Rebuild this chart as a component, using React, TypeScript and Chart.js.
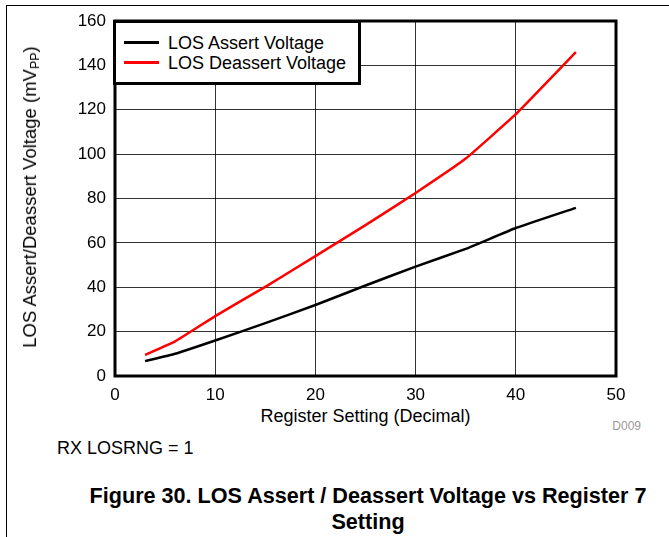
import React, { useEffect, useRef } from "react";
import { Chart, registerables } from "chart.js";

Chart.register(...registerables);

const registerSetting = [3, 6, 10, 15, 20, 25, 30, 35, 40, 46];
const assertVoltage = [6.7, 10, 16, 23.8, 32, 40.8, 49.3, 57.3, 66.7, 75.8];
const deassertVoltage = [9.5, 15.6, 27, 40.2, 54, 68, 82.5, 98, 118, 146];
const xTicks = [0, 10, 20, 30, 40, 50];
const yTicks = [0, 20, 40, 60, 80, 100, 120, 140, 160];
const seriesNames = ["LOS Assert Voltage", "LOS Deassert Voltage"];
const seriesColors = ["#000000", "#ff0000"];

const FONT = '"Liberation Sans", Arial, sans-serif';

const boxPlugin = {
  id: "plotBox",
  afterDraw(chart: any) {
    const { ctx, chartArea } = chart;
    ctx.save();
    ctx.strokeStyle = "#000";
    ctx.lineWidth = 3;
    ctx.strokeRect(chartArea.left, chartArea.top, chartArea.right - chartArea.left, chartArea.bottom - chartArea.top);
    ctx.restore();
  },
};

export default function App() {
  const ref = useRef<HTMLCanvasElement | null>(null);

  useEffect(() => {
    if (!ref.current) return;
    const chart = new Chart(ref.current, {
      type: "line",
      data: {
        datasets: [
          {
            label: seriesNames[0],
            data: registerSetting.map((x, i) => ({ x, y: assertVoltage[i] })),
            borderColor: seriesColors[0],
            borderWidth: 2.5,
            pointRadius: 0,
            tension: 0.1,
          },
          {
            label: seriesNames[1],
            data: registerSetting.map((x, i) => ({ x, y: deassertVoltage[i] })),
            borderColor: seriesColors[1],
            borderWidth: 2.5,
            pointRadius: 0,
            tension: 0.1,
          },
        ],
      },
      options: {
        animation: false,
        responsive: false,
        layout: { padding: { top: 21, right: 53, bottom: 0, left: 0 } },
        plugins: { legend: { display: false }, tooltip: { enabled: false } },
        scales: {
          x: {
            type: "linear",
            min: 0,
            max: 50,
            afterFit: (s: any) => {
              s.height = 24;
            },
            afterBuildTicks: (s: any) => {
              s.ticks = xTicks.map((v) => ({ value: v }));
            },
            border: { display: false },
            grid: { color: "rgba(0,0,0,0.8)", lineWidth: 1, drawTicks: false },
            ticks: { padding: 9, color: "#000", font: { family: FONT, size: 17 }, maxRotation: 0 },
          },
          y: {
            type: "linear",
            min: 0,
            max: 160,
            afterFit: (s: any) => {
              s.width = 115;
            },
            afterBuildTicks: (s: any) => {
              s.ticks = yTicks.map((v) => ({ value: v }));
            },
            border: { display: false },
            grid: { color: "rgba(0,0,0,0.8)", lineWidth: 1, drawTicks: false },
            ticks: { padding: 9, color: "#000", font: { family: FONT, size: 17 } },
          },
        },
      },
      plugins: [boxPlugin],
    });
    return () => chart.destroy();
  }, []);

  const abs = (s: React.CSSProperties): React.CSSProperties => ({ position: "absolute", ...s });

  return (
    <div style={abs({ left: 0, top: 0, width: 669, height: 537, fontFamily: FONT, color: "#000", background: "#fff", overflow: "hidden" })}>
      <div style={abs({ left: 6, top: 5, width: 663, height: 1, background: "#000" })} />
      <div style={abs({ left: 6, top: 5, width: 1, height: 532, background: "#000" })} />
      <canvas ref={ref} width={669} height={400} style={abs({ left: 0, top: 0, width: 669, height: 400, display: "block" })} />
      {/* legend */}
      <div style={abs({ left: 113, top: 20, width: 248, height: 65, boxSizing: "border-box", border: "3px solid #000", background: "#fff" })}>
        {seriesNames.map((name, i) => (
          <div key={name} style={abs({ left: 0, top: 9 + i * 20, width: 240, height: 20 })}>
            <div style={abs({ left: 8, top: 9, width: 35, height: 3, background: seriesColors[i] })} />
            <div style={abs({ left: 52, top: 1, fontSize: 18, lineHeight: "20px", whiteSpace: "nowrap" })}>{name}</div>
          </div>
        ))}
      </div>
      {/* y axis title */}
      <div
        style={abs({
          left: 31,
          top: 197,
          fontSize: 18.5,
          lineHeight: "20px",
          whiteSpace: "nowrap",
          transform: "translate(-50%, -50%) rotate(-90deg)",
        })}
      >
        LOS Assert/Deassert Voltage (mV<span style={{ fontSize: 12.5, position: "relative", top: 3 }}>PP</span>)
      </div>
      {/* x axis title */}
      <div style={abs({ left: 115, top: 407, width: 501, textAlign: "center", fontSize: 18, lineHeight: "18px", whiteSpace: "nowrap" })}>
        Register Setting (Decimal)
      </div>
      <div style={abs({ left: 580, top: 419, width: 61, textAlign: "right", fontSize: 12, lineHeight: "14px", color: "#999" })}>D009</div>
      <div style={abs({ left: 57, top: 439, fontSize: 18, lineHeight: "18px", whiteSpace: "nowrap" })}>RX LOSRNG = 1</div>
      <div style={abs({ left: 60, top: 483, width: 616, textAlign: "center", fontSize: 21.6, lineHeight: "26px", fontWeight: "bold", whiteSpace: "nowrap" })}>
        Figure 30. LOS Assert / Deassert Voltage vs Register 7
        <br />
        Setting
      </div>
    </div>
  );
}
